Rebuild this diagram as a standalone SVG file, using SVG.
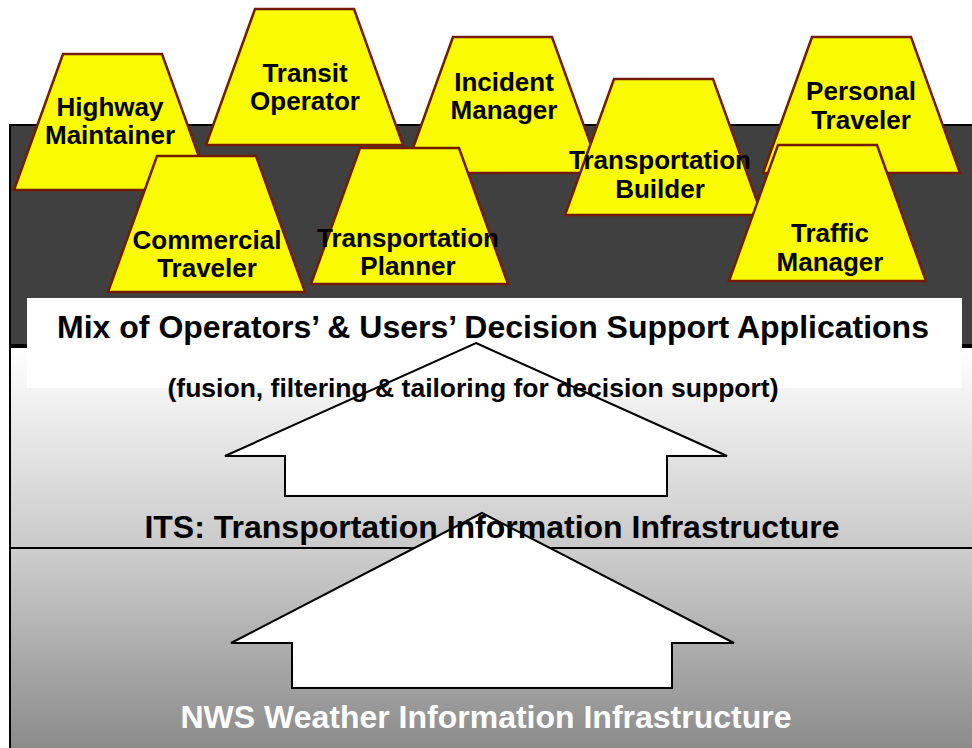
<svg xmlns="http://www.w3.org/2000/svg" xmlns:xlink="http://www.w3.org/1999/xlink" width="972" height="748" viewBox="0 0 972 748">
<style>
.trap{fill:#FAFA00;stroke:#731C00;stroke-width:2.5;stroke-linejoin:miter}
.lbl{font-family:"Liberation Sans",Arial,sans-serif;font-weight:bold;font-size:26px;fill:#000;text-anchor:middle}
.big{font-family:"Liberation Sans",Arial,sans-serif;font-weight:bold;font-size:32px;text-anchor:middle}
.arrow{fill:#fff;stroke:#000;stroke-width:2;stroke-linejoin:miter}
</style>
<defs>
<linearGradient id="gIts" x1="0" y1="0" x2="0" y2="1">
<stop offset="0" stop-color="#ffffff"/>
<stop offset="1" stop-color="#c9c9c9"/>
</linearGradient>
<linearGradient id="gNws" x1="0" y1="0" x2="0" y2="1">
<stop offset="0" stop-color="#cecece"/>
<stop offset="1" stop-color="#888888"/>
</linearGradient>
<path id="tz" d="M49,0 H148 L197,136 H0 Z"/>
</defs>
<rect width="972" height="748" fill="#fff"/>
<g id="layers">
<rect id="nws-layer" x="10" y="548" width="970" height="210" fill="url(#gNws)" stroke="#000" stroke-width="2"/>
<rect id="its-layer" x="10" y="347" width="970" height="201" fill="url(#gIts)" stroke="#000" stroke-width="2"/>
<rect id="dss-layer" x="10" y="125" width="970" height="220" fill="#404040" stroke="#000" stroke-width="2"/>
<rect id="dss-textbox" x="27" y="298" width="935" height="90" fill="#fff"/>
</g>
<g id="back-row">
<g id="highway-maintainer"><use xlink:href="#tz" class="trap" transform="translate(14,54)"/><text class="lbl" x="110" y="116">Highway</text><text class="lbl" x="110" y="144">Maintainer</text></g>
<g id="transit-operator"><use xlink:href="#tz" class="trap" transform="translate(206,9)"/><text class="lbl" x="305" y="82">Transit</text><text class="lbl" x="305" y="110">Operator</text></g>
<g id="incident-manager"><use xlink:href="#tz" class="trap" transform="translate(404,37)"/><text class="lbl" x="504" y="91">Incident</text><text class="lbl" x="504" y="119">Manager</text></g>
<g id="personal-traveler"><use xlink:href="#tz" class="trap" transform="translate(763,37)"/><text class="lbl" x="861" y="100">Personal</text><text class="lbl" x="861" y="129">Traveler</text></g>
</g>
<g id="front-row">
<g id="commercial-traveler"><use xlink:href="#tz" class="trap" transform="translate(108,156)"/><text class="lbl" x="207" y="249">Commercial</text><text class="lbl" x="207" y="277">Traveler</text></g>
<g id="transportation-planner"><use xlink:href="#tz" class="trap" transform="translate(311,148)"/><text class="lbl" x="408" y="247">Transportation</text><text class="lbl" x="408" y="275">Planner</text></g>
<g id="transportation-builder"><use xlink:href="#tz" class="trap" transform="translate(565,79)"/><text class="lbl" x="660" y="169">Transportation</text><text class="lbl" x="660" y="198">Builder</text></g>
<g id="traffic-manager"><use xlink:href="#tz" class="trap" transform="translate(729,145)"/><text class="lbl" x="830" y="242">Traffic</text><text class="lbl" x="830" y="271">Manager</text></g>
</g>
<g id="connectors">
<path class="arrow" d="M476,343 L727,456 H667 V496 H285 V456 H225 Z"/>
<path class="arrow" d="M482,513 L734,643 H672 V688 H292 V643 H231 Z"/>
</g>
<g id="layer-labels">
<text class="big" x="493" y="338" fill="#000">Mix of Operators’ &amp; Users’ Decision Support Applications</text>
<text x="473" y="397" font-family="Liberation Sans, Arial, sans-serif" font-weight="bold" font-size="26.5" text-anchor="middle" fill="#000">(fusion, filtering &amp; tailoring for decision support)</text>
<text class="big" x="492" y="538" fill="#000">ITS: Transportation Information Infrastructure</text>
<text class="big" x="486" y="728" fill="#fff">NWS Weather Information Infrastructure</text>
</g>
</svg>
